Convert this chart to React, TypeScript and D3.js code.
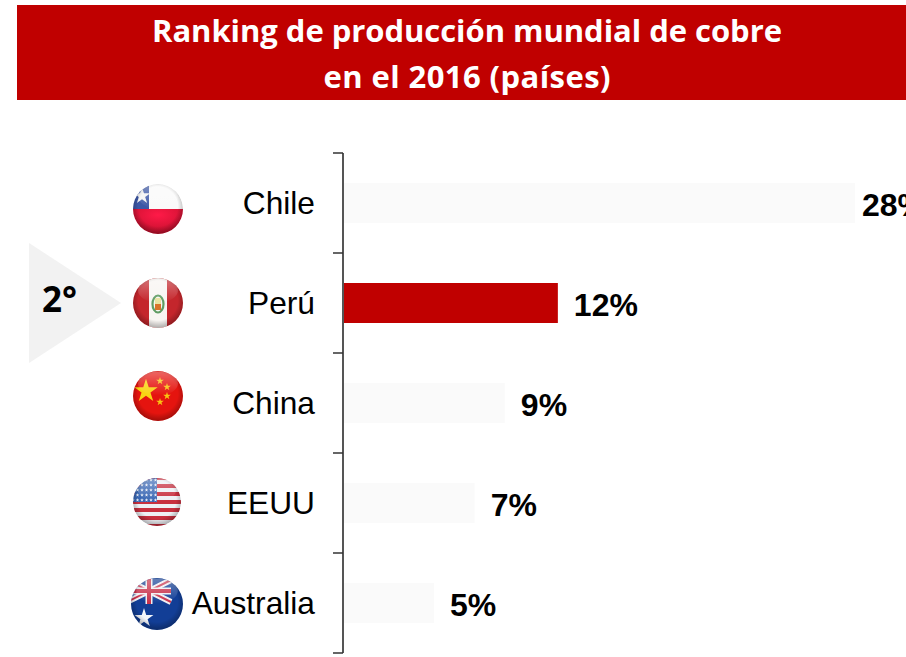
import React from "react";
import * as d3 from "d3";

const title = ["Ranking de producción mundial de cobre", "en el 2016 (países)"];
const titleWidths = [630, 287];
const countries = ["Chile", "Perú", "China", "EEUU", "Australia"];
const shares = [28, 11.75, 8.85, 7.2, 4.97];
const shareLabels = ["28%", "12%", "9%", "7%", "5%"];
const labelGaps = [7, 16, 16, 16, 16];
const highlighted = "Perú";
const rankLabel = "2°";

const RED = "#c00000";
const LABEL_FONT = "'Liberation Sans', Arial, sans-serif";
const TITLE_FONT = "'Open Sans', Lato, sans-serif";

const x = d3.scaleLinear().domain([0, 28]).range([343, 855]);
const y = d3.scaleBand<string>().domain(countries).range([153, 653]).paddingInner(0.6).paddingOuter(0.3);
const tickYs = [...countries.map((c) => (y(c) as number) - 30), 653];

const star = (size: number) => d3.symbol(d3.symbolStar, size)() as string;

// round glossy badge: flag art is drawn in a box centred on 0,0 and clipped to the circle
const Badge = ({ id, cx, cy, r, children }: any) => (
  <g transform={`translate(${cx},${cy})`}>
    <clipPath id={`clip-${id}`}>
      <circle r={r} />
    </clipPath>
    <g clipPath={`url(#clip-${id})`}>
      {children}
      <circle r={r} fill="url(#rim)" />
      <ellipse cy={-r * 0.5} rx={r * 0.8} ry={r * 0.48} fill="url(#gloss)" />
    </g>
  </g>
);

const Chile = () => (
  <>
    <rect x={-30} y={-30} width={60} height={30} fill="#fafafa" />
    <rect x={-30} y={0} width={60} height={30} fill="url(#chileRed)" />
    <rect x={-30} y={-30} width={21} height={30} fill="#3c57a6" />
    <path d={star(85)} transform="translate(-16,-13)" fill="#f4f4f4" />
  </>
);

const Peru = () => (
  <>
    <rect x={-30} y={-30} width={60} height={60} fill="#c4262c" />
    <rect x={-9} y={-30} width={18} height={60} fill="#f8f5f2" />
    <ellipse cx={0} cy={1} rx={5.5} ry={8.5} fill="none" stroke="#5f9c63" strokeWidth={2.2} />
    <rect x={-3} y={1} width={6} height={6} fill="#d9722a" />
    <rect x={-3} y={-5} width={6} height={6} fill="#e8e2a0" />
  </>
);

const China = () => (
  <>
    <circle r={30} fill="#e5140f" />
    <path d={star(170)} transform="translate(-12,-5)" fill="#f8d313" />
    <path d={star(18)} transform="translate(2,-15)" fill="#f8c413" />
    <path d={star(18)} transform="translate(9,-9)" fill="#f8c413" />
    <path d={star(18)} transform="translate(9,0)" fill="#f8c413" />
    <path d={star(18)} transform="translate(2,6)" fill="#f8c413" />
  </>
);

const usaStripes = d3.range(0, 13);
const usaStarRows = d3.range(0, 5);
const usaStarCols = d3.range(0, 6);
const Usa = () => (
  <>
    {usaStripes.map((i) => (
      <rect key={i} x={-30} y={-26 + i * 4} width={60} height={4} fill={i % 2 ? "#eef0f4" : "#c8303f"} />
    ))}
    <rect x={-30} y={-26} width={30} height={26} fill="#3a68b4" />
    {usaStarRows.map((r) =>
      usaStarCols.map((c) => (
        <path key={`${r}-${c}`} d={star(4)} transform={`translate(${-24 + c * 4.5},${-22 + r * 5})`} fill="#f4f6fa" />
      ))
    )}
  </>
);

const Australia = () => (
  <>
    <rect x={-30} y={-30} width={60} height={60} fill="#123e96" />
    <path d="M-30,-24L14,-2M14,-24L-30,-2" stroke="#f0eef2" strokeWidth={6} />
    <path d="M-30,-24L14,-2M14,-24L-30,-2" stroke="#c9304a" strokeWidth={2} />
    <path d="M-8,-26V0M-30,-13H14" stroke="#f0eef2" strokeWidth={7} />
    <path d="M-8,-26V0M-30,-13H14" stroke="#c9304a" strokeWidth={4} />
    <path d={star(110)} transform="translate(-13,14)" fill="#f4f6fa" />
  </>
);

export default function App() {
  return (
    <svg width={906} height={657} style={{ position: "absolute", left: 0, top: 0, display: "block", background: "#fff" }}>
      <defs>
        <radialGradient id="rim" cx="50%" cy="45%" r="55%">
          <stop offset="72%" stopColor="#000" stopOpacity={0} />
          <stop offset="100%" stopColor="#000" stopOpacity={0.3} />
        </radialGradient>
        <linearGradient id="gloss" x1="0" y1="0" x2="0" y2="1">
          <stop offset="0%" stopColor="#fff" stopOpacity={0.35} />
          <stop offset="100%" stopColor="#fff" stopOpacity={0} />
        </linearGradient>
        <radialGradient id="chileRed" cx="50%" cy="20%" r="60%">
          <stop offset="0%" stopColor="#ff1a48" />
          <stop offset="100%" stopColor="#c8102e" />
        </radialGradient>
      </defs>

      <rect x={17} y={5} width={889} height={95} fill={RED} />
      {title.map((line, i) => (
        <text
          key={line}
          x={467}
          y={42 + i * 46}
          textAnchor="middle"
          textLength={titleWidths[i]}
          fill="#fff"
          fontFamily={TITLE_FONT}
          fontWeight={700}
          fontSize={31}
        >
          {line}
        </text>
      ))}

      <path d="M29,243L121,303L29,363Z" fill="#f2f2f2" />
      <text x={42} y={312} fontFamily={TITLE_FONT} fontWeight={700} fontSize={35} fill="#000">
        {rankLabel}
      </text>

      {countries.map((c, i) => (
        <g key={c}>
          <rect
            x={x(0)}
            y={y(c)}
            width={x(shares[i]) - x(0)}
            height={y.bandwidth()}
            fill={c === highlighted ? RED : "#fafafa"}
          />
          <text x={315} y={(y(c) as number) + 31} textAnchor="end" fontFamily={LABEL_FONT} fontSize={31.7} fill="#000">
            {c}
          </text>
          <text x={x(shares[i]) + labelGaps[i]} y={(y(c) as number) + 33} fontFamily={LABEL_FONT} fontWeight={700} fontSize={32} fill="#000">
            {shareLabels[i]}
          </text>
        </g>
      ))}

      <path d="M343,153V653" stroke="#555" strokeWidth={2} fill="none" />
      {tickYs.map((t) => (
        <path key={t} d={`M333,${t}H343`} stroke="#333" strokeWidth={1.5} />
      ))}

      <Badge id="cl" cx={158} cy={209} r={25}><Chile /></Badge>
      <Badge id="pe" cx={158} cy={303} r={25}><Peru /></Badge>
      <Badge id="cn" cx={158} cy={396} r={25}><China /></Badge>
      <Badge id="us" cx={157} cy={502} r={24}><Usa /></Badge>
      <Badge id="au" cx={157} cy={604} r={26}><Australia /></Badge>
    </svg>
  );
}
